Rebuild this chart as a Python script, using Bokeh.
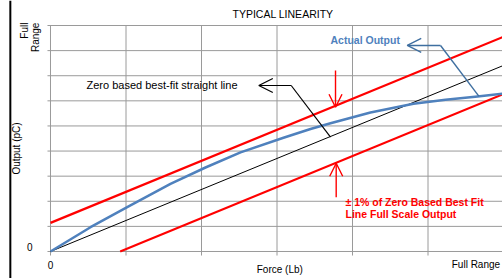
from bokeh.plotting import figure
from bokeh.models import Range1d, Label, Arrow, OpenHead, Span
from bokeh.embed import file_html
from bokeh.resources import INLINE
import math

# ---------------- data (grid units: force 0..6, output 0..9 = Full Range) ---------------
x_ticks = [0, 1, 2, 3, 4, 5, 6]
y_ticks = [0, 1, 2, 3, 4, 5, 6, 7, 8, 9]
x_zero_label = "0"
y_zero_label = "0"
full_range = "Full Range"

fit_force = [0, 6]
fit_output = [0, 7.41]
upper_force = [0, 6]
upper_output = [1.14, 8.55]
lower_force = [0.923, 6]
lower_output = [0, 6.27]

actual_force = [0, 0.53, 1.016, 1.589, 2.053, 2.517, 3.086, 3.444, 3.709, 4.238, 4.808,
                5.232, 5.656, 5.987]
actual_output = [0, 0.968, 1.764, 2.696, 3.345, 3.95, 4.528, 4.879, 5.109, 5.536, 5.882,
                 6.041, 6.173, 6.280]

title_text = "TYPICAL LINEARITY"
x_title = "Force (Lb)"
y_title = "Output (pC)"

FONT = "Liberation Sans"
GRID = "#9a9a9a"
RED = "#ff0000"
BLUE = "#4f81bd"
DBLUE = "#3f6fa0"

# the frame covers the whole canvas; the gridded area is 0..6 x 0..9
p = figure(width=502, height=278, x_range=Range1d(-0.66225, 5.98675),
           y_range=Range1d(-1.07527, 9.99602), x_axis_type=None, y_axis_type=None,
           output_backend="svg", toolbar_location=None,
           min_border_left=0, min_border_right=0, min_border_top=0, min_border_bottom=0)
p.outline_line_color = None

# grid lines (each extended a little past the axis to form its tick mark)
x_max, y_max = x_ticks[-1], y_ticks[-1]
p.segment(x0=x_ticks, y0=[-0.16] * len(x_ticks), x1=x_ticks, y1=[y_max] * len(x_ticks),
          line_color=GRID, line_width=1)
p.segment(x0=[-0.04] * len(y_ticks), y0=y_ticks, x1=[x_max] * len(y_ticks), y1=y_ticks,
          line_color=GRID, line_width=1)

# black edge rule at the far left
p.add_layout(Span(location=-0.532, dimension="height", line_color="black", line_width=2))

# lines
p.line(fit_force, fit_output, line_color="black", line_width=1)
p.line(upper_force, upper_output, line_color=RED, line_width=2.2)
p.line(lower_force, lower_output, line_color=RED, line_width=2.2)
p.line(actual_force, actual_output, line_color=BLUE, line_width=2.5, line_join="round")

# callout arrows
p.line([3.188, 3.709], [6.611, 4.552], line_color="black", line_width=1.2)
p.add_layout(Arrow(end=OpenHead(size=14, line_color="black", line_width=1.2),
                   x_start=3.188, y_start=6.611, x_end=2.759, y_end=6.611,
                   line_color="black", line_width=1.2))
p.line([5.166, 5.673], [8.204, 6.185], line_color=DBLUE, line_width=1.4)
p.add_layout(Arrow(end=OpenHead(size=14, line_color=DBLUE, line_width=1.4),
                   x_start=5.166, y_start=8.204, x_end=4.725, y_end=8.204,
                   line_color=DBLUE, line_width=1.4))
p.add_layout(Arrow(end=OpenHead(size=13, line_color=RED, line_width=1.4),
                   x_start=3.775, y_start=7.208, x_end=3.775, y_end=5.747,
                   line_color=RED, line_width=1.4))
p.add_layout(Arrow(end=OpenHead(size=13, line_color=RED, line_width=1.4),
                   x_start=3.784, y_start=2.162, x_end=3.784, y_end=3.517,
                   line_color=RED, line_width=1.4))

def lab(x, y, text, size="10px", color="black", align="left", baseline="middle", angle=0,
        style="normal"):
    p.add_layout(Label(x=x, y=y, text=text, text_font=FONT, text_font_size=size,
                       text_color=color, text_align=align, text_baseline=baseline,
                       angle=angle, text_font_style=style))

lab(3.079, 9.478, title_text, size="10.5px", align="center")
lab(0.477, 6.611, "Zero based best-fit straight line", size="11px")
lab(3.709, 8.423, "Actual Output", size="10.5px", color=BLUE, style="bold")
lab(3.907, 1.963, "\u00b1 1% of Zero Based Best Fit", size="10.5px", color=RED, style="bold")
lab(3.907, 1.474, "Line Full Scale Output", size="10.5px", color=RED, style="bold")

# axis texts
lab(x_ticks[0], -0.5575, x_zero_label, align="center")
lab(3.037, -0.717, x_title, align="center")
lab(5.955, -0.518, full_range, align="right")
lab(-0.2755, y_ticks[0] + 0.171, y_zero_label, align="center")
lab(-0.450, 4.102, y_title, align="center", angle=math.pi / 2)
lab(-0.344, 9.116, "Full", align="right", baseline="alphabetic", angle=math.pi / 2)
lab(-0.199, 9.116, "Range", align="right", baseline="alphabetic", angle=math.pi / 2)

open("out.html", "w").write(file_html(p, INLINE))
